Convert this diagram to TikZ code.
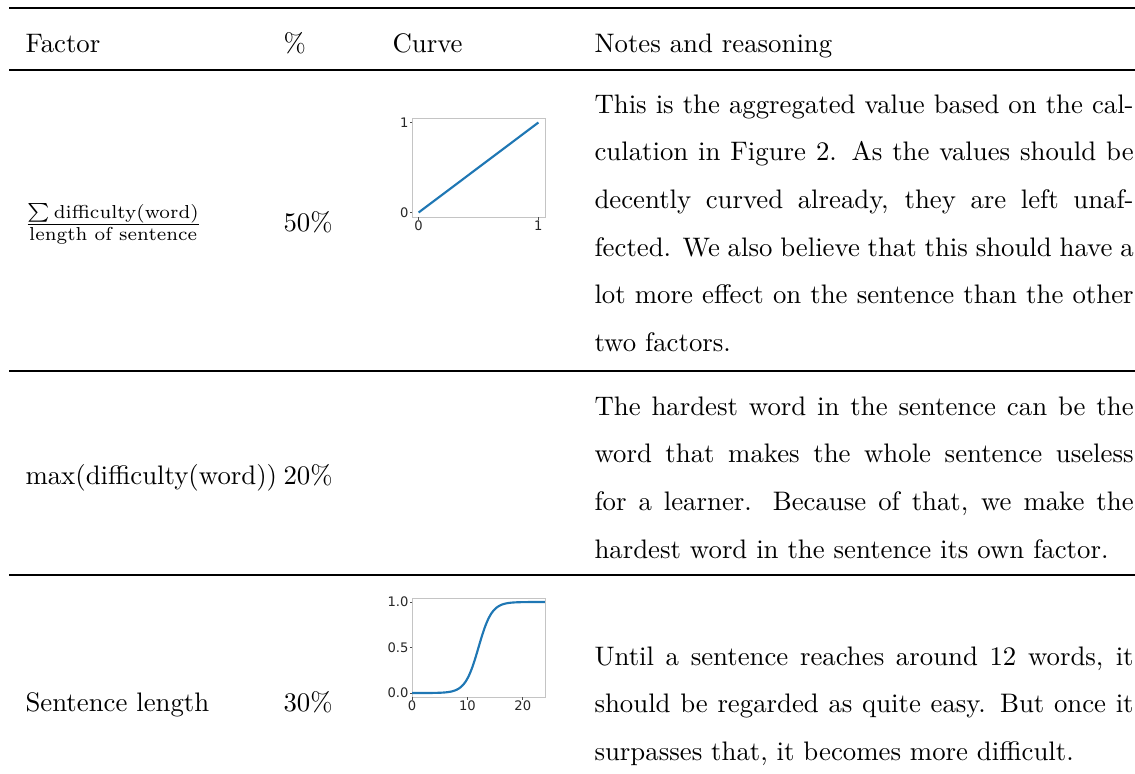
\documentclass[tikz,border=0pt]{standalone}
\usepackage{fontspec}
\usepackage{amsmath}
\usepackage{tikz}
\usetikzlibrary{calc}
\newfontfamily\tickfont{DejaVu Sans}
\definecolor{mplblue}{HTML}{1F77B4}
\definecolor{axisgray}{HTML}{C4C4C4}
\tikzset{
  cell/.style={anchor=base west, inner sep=0pt},
  notes/.style={cell, text width=201.3pt, align=justify,
    execute at begin node={\setlength{\baselineskip}{17.8pt}}},
  heavyrule/.style={line width=0.8pt},
  lightrule/.style={line width=0.5pt},
  plotframe/.style={draw=axisgray, line width=0.35pt},
  plotline/.style={draw=mplblue, line width=0.8pt},
  tick/.style={draw=black!70, line width=0.3pt},
  ticklabel/.style={inner sep=0pt, text=black!85, font=\tickfont\fontsize{4.9}{5}\selectfont}
}

\begin{document}
\begin{tikzpicture}[x=0.3734pt, y=-0.3734pt]
\useasboundingbox (0,0) rectangle (1135,773);

% rules
\draw[heavyrule] (9,8) -- (1135,8);
\draw[lightrule] (9,70) -- (1135,70);
\draw[lightrule] (9,371) -- (1135,371);
\draw[lightrule] (9,575) -- (1135,575);

% header
\node[cell] (hfactor) at (25,52) {Factor};
\node[cell] (hpct) at (283,52) {\%};
\node[cell] (hcurve) at (392,52) {Curve};
\node[cell] (hnotes) at (594,52) {Notes and reasoning};

% first row: average difficulty
\node[cell] (favg) at (24,231) {$\frac{\sum\text{difficulty(word)}}{\text{length of sentence}}$};
\node[cell] (pavg) at (283,231) {50\%};
\node[notes] (navg) at (594,113) {This is the aggregated value based on the cal-\linebreak
culation in Figure~2. As the values should be\linebreak
decently curved already, they are left unaf-\linebreak
fected. We also believe that this should have a\linebreak
lot more effect on the sentence than the other\linebreak
two factors.};

% linear curve
\draw[plotframe] (412,118) rectangle (545,217);
\draw[plotline] (418.6,212.5) -- (538.4,122.5);
\draw[tick] (412,212.5) -- ++(-2.5,0) (412,122.5) -- ++(-2.5,0);
\draw[tick] (418.6,217) -- ++(0,2.5) (538.4,217) -- ++(0,2.5);
\node[ticklabel, anchor=east] (ya0) at (409,212.5) {0};
\node[ticklabel, anchor=east] (ya1) at (409,122.5) {1};
\node[ticklabel, anchor=north] (xa0) at (418.6,220) {0};
\node[ticklabel, anchor=north] (xa1) at (538.4,220) {1};

% second row: hardest word
\node[cell] (fmax) at (25,484) {max(difficulty(word))};
\node[cell] (pmax) at (283,484) {20\%};
\node[notes] (nmax) at (594,415) {The hardest word in the sentence can be the\linebreak
word that makes the whole sentence useless\linebreak
for a learner. Because of that, we make the\linebreak
hardest word in the sentence its own factor.\parfillskip=0pt};

% third row: sentence length
\node[cell] (flen) at (25,711) {Sentence length};
\node[cell] (plen) at (283,711) {30\%};
\node[notes] (nlen) at (594,665) {Until a sentence reaches around 12 words, it\linebreak
should be regarded as quite easy. But once it\linebreak
surpasses that, it becomes more difficult.};

% sigmoid curve
\draw[plotframe] (412,598) rectangle (545,697);
\draw[plotline] plot[domain=0:24, samples=120, smooth]
  ({412+5.54*\x},{693-91/(1+exp(min(9,-(\x-12)/1.2)))});
\foreach \v/\lab in {0/0.0, 0.5/0.5, 1/1.0} {
  \draw[tick] (412,693-91*\v) -- ++(-2.5,0);
  \node[ticklabel, anchor=east] (yb\lab) at (409,693-91*\v) {\lab};
}
\foreach \v in {0,10,20} {
  \draw[tick] (412+5.54*\v,697) -- ++(0,2.5);
  \node[ticklabel, anchor=north] (xb\v) at (412+5.54*\v,700) {\v};
}
\end{tikzpicture}
\end{document}
